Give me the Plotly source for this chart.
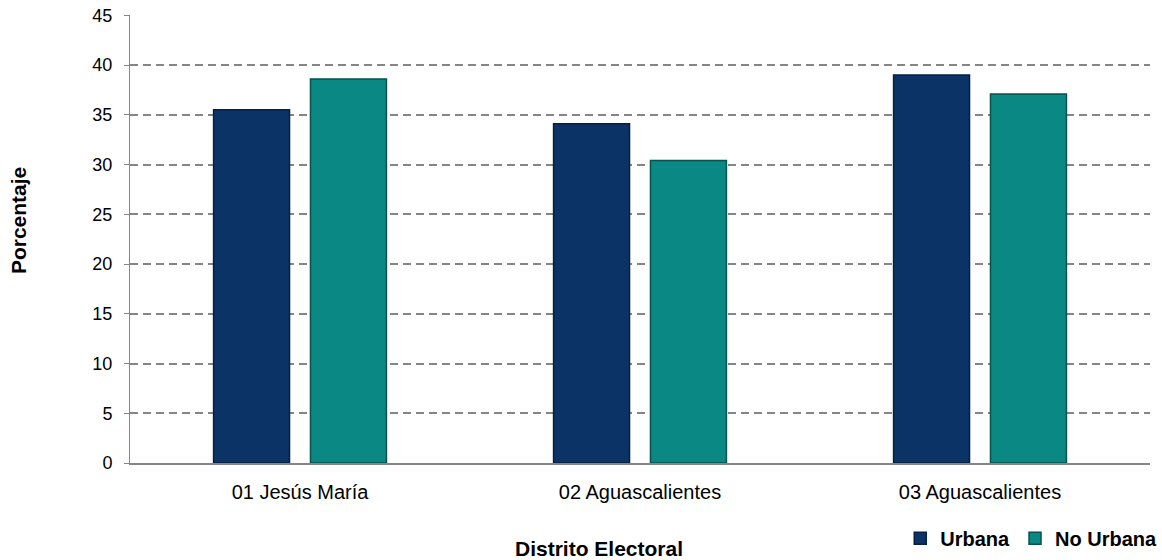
import plotly.graph_objects as go

categories = ["01 Jesús María", "02 Aguascalientes", "03 Aguascalientes"]
urbana = [35.5, 34.1, 39.0]
no_urbana = [38.6, 30.4, 37.1]
series_names = ["Urbana", "No Urbana"]
y_ticks = [0, 5, 10, 15, 20, 25, 30, 35, 40, 45]
y_title = "Porcentaje"
x_title = "Distrito Electoral"

FONT = "Liberation Sans, Arial, sans-serif"

fig = go.Figure()
fig.add_trace(go.Bar(x=categories, y=urbana, name=series_names[0],
                     marker=dict(color="#0b3366", line=dict(color="#06203f", width=1.5))))
fig.add_trace(go.Bar(x=categories, y=no_urbana, name=series_names[1],
                     marker=dict(color="#0a8883", line=dict(color="#05524f", width=1.5))))

fig.update_layout(
    width=1162, height=560,
    margin=dict(l=130, r=12, t=15, b=97, autoexpand=False),
    paper_bgcolor="white", plot_bgcolor="white",
    barmode="group", bargap=0.43, bargroupgap=0.216,
    font=dict(family=FONT, size=19, color="#000"),
    showlegend=True,
    legend=dict(orientation="h", x=1.012, xanchor="right", y=-0.168, yanchor="middle",
                font=dict(size=20, color="#000", family=FONT, weight="bold"),
                itemwidth=30, traceorder="normal"),
    annotations=[
        dict(text="<b>%s</b>" % y_title, xref="paper", yref="paper", x=-0.1098, y=0.540,
             xanchor="center", yanchor="middle", textangle=-90, showarrow=False,
             font=dict(size=21, family=FONT, color="#000")),
        dict(text="<b>%s</b>" % x_title, xref="paper", yref="paper", x=0.4598, y=-0.19,
             xanchor="center", yanchor="middle", showarrow=False,
             font=dict(size=21, family=FONT, color="#000")),
    ],
)
fig.update_yaxes(range=[0, 45.03], tickvals=y_ticks, showgrid=True, gridcolor="#858585",
                 griddash="8px,5px", gridwidth=1.5, showline=True, linecolor="#868686",
                 ticks="outside", ticklen=5, tickcolor="#868686", zeroline=False,
                 ticklabelstandoff=8, tickfont=dict(size=18))
fig.update_xaxes(showline=True, linecolor="#868686", linewidth=1.5, ticks="", tickfont=dict(size=20),
                 ticklabelstandoff=10)

fig.write_html("out.html", config={"displayModeBar": False},
               post_script="document.body.style.margin='0';document.body.style.overflow='hidden';")
